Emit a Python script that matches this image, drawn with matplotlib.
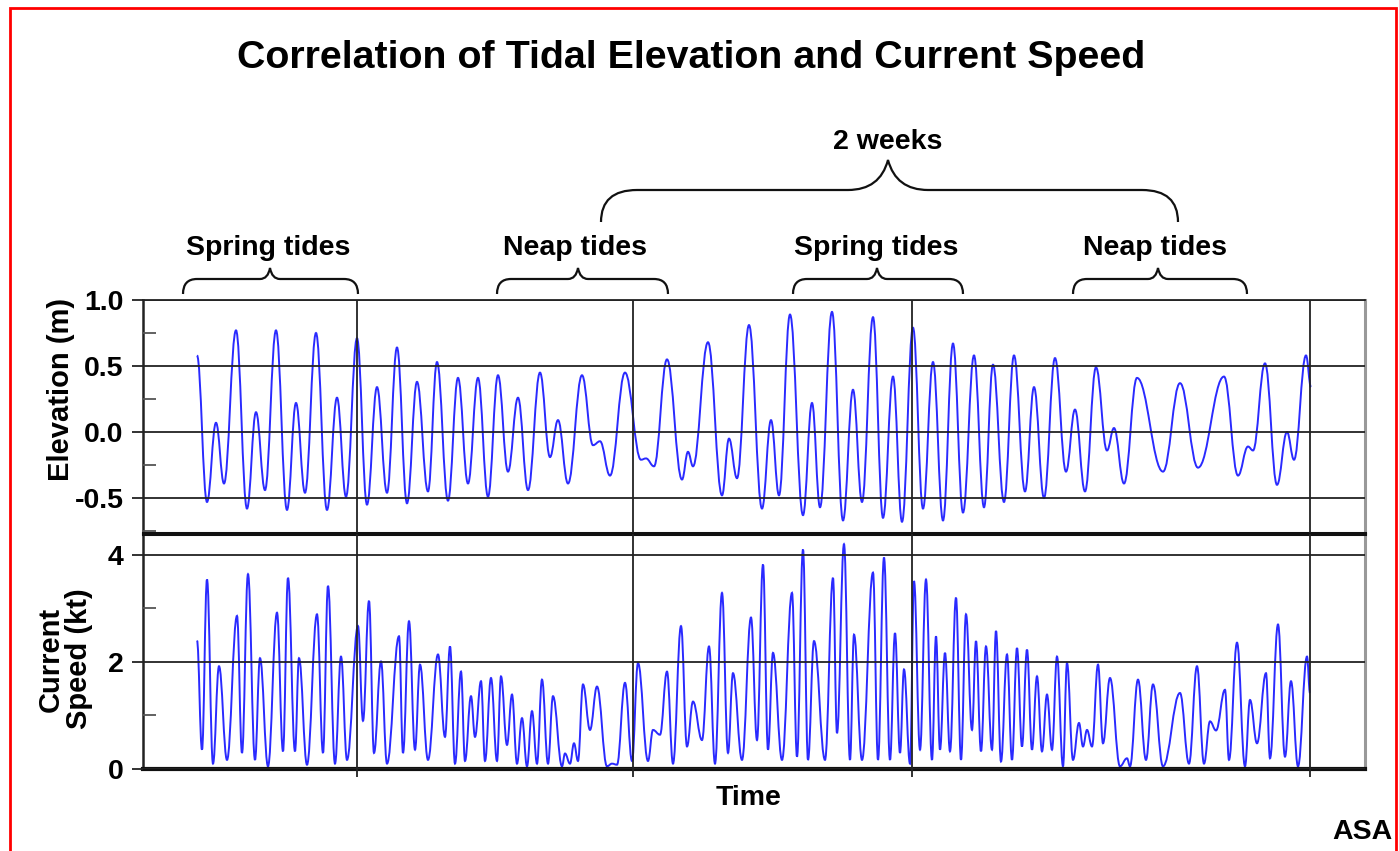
import matplotlib
matplotlib.use('Agg')
import matplotlib.pyplot as plt
from matplotlib.path import Path
from matplotlib.patches import PathPatch, Rectangle

# ---------------- data (time in arbitrary units along the record) ----------------
elev_t = [197,207,216,224,236,247,256,265,276,287,
          296,305,316,327,337,346,357,367,377,387,
          397,407,417,428,437,448,458,468,478,488,
          498,508,518,528,540,550,558,568,582,593,
          600,610,625,641,646,654,667,682,688,693,
          708,722,729,737,749,762,771,779,790,803,
          812,820,832,843,853,862,873,883,893,902,
          913,923,933,943,953,963,974,984,993,1004,
          1014,1025,1034,1044,1055,1066,1075,1085,1096,1107,
          1114,1124,1137,1163,1180,1198,1224,1238,1248,1253,
          1265,1277,1287,1294,1306,1311]
elev_m = [0.58,-0.53,0.07,-0.39,0.77,-0.58,0.15,-0.44,0.77,-0.59,
          0.22,-0.46,0.75,-0.59,0.26,-0.49,0.71,-0.55,0.34,-0.46,
          0.64,-0.54,0.38,-0.45,0.53,-0.52,0.41,-0.39,0.41,-0.49,
          0.43,-0.30,0.26,-0.44,0.45,-0.19,0.09,-0.39,0.43,-0.10,
          -0.07,-0.33,0.45,-0.21,-0.20,-0.26,0.55,-0.36,-0.15,-0.26,
          0.68,-0.48,-0.05,-0.35,0.81,-0.58,0.09,-0.48,0.89,-0.63,
          0.22,-0.57,0.91,-0.67,0.32,-0.53,0.87,-0.65,0.42,-0.68,
          0.79,-0.58,0.53,-0.67,0.67,-0.61,0.58,-0.57,0.51,-0.53,
          0.58,-0.45,0.34,-0.50,0.56,-0.30,0.17,-0.45,0.49,-0.14,
          0.03,-0.39,0.41,-0.30,0.37,-0.27,0.42,-0.33,-0.11,-0.14,
          0.52,-0.40,0.00,-0.21,0.58,0.34]

speed_t = [197,202,207,213,219,227,237,242,248,255,
           260,268,277,283,288,295,299,307,317,323,
           328,335,341,347,358,363,369,374,381,387,
           399,403,409,415,420,428,438,445,450,455,
           461,465,471,475,481,485,491,497,501,507,
           512,517,522,527,532,537,542,548,553,562,
           565,570,574,578,583,590,597,607,612,617,
           625,632,638,648,653,660,667,673,681,687,
           693,702,709,715,722,728,733,742,751,757,
           763,768,773,782,792,797,803,808,814,825,
           833,837,844,850,854,862,873,878,884,890,
           895,900,904,910,914,920,926,932,936,940,
           945,950,956,961,966,972,976,981,986,992,
           996,1001,1007,1012,1017,1022,1027,1032,1037,1042,
           1047,1052,1057,1063,1067,1073,1079,1083,1087,1092,
           1098,1103,1110,1120,1127,1130,1138,1146,1153,1163,
           1180,1189,1197,1204,1210,1216,1225,1229,1237,1245,
           1250,1257,1266,1270,1278,1285,1291,1298,1307,1310]
speed_kt = [2.4,0.36,3.54,0.1,1.92,0.17,2.86,0.3,3.64,0.17,
            2.07,0.05,2.92,0.33,3.57,0.33,2.07,0.08,2.89,0.3,
            3.42,0.1,2.1,0.17,2.67,0.9,3.14,0.3,2.01,0.1,
            2.48,0.3,2.76,0.36,1.95,0.17,2.14,0.6,2.29,0.1,
            1.82,0.15,1.36,0.6,1.64,0.15,1.7,0.15,1.73,0.45,
            1.39,0.1,0.95,0.05,1.08,0.1,1.67,0.1,1.36,0.05,
            0.29,0.1,0.48,0.15,1.58,0.73,1.54,0.05,0.1,0.08,
            1.61,0.15,1.98,0.15,0.73,0.64,1.82,0.1,2.67,0.42,
            1.26,0.54,2.29,0.1,3.29,0.3,1.79,0.17,2.83,0.54,
            3.82,0.36,2.17,0.17,3.29,0.23,4.1,0.17,2.39,0.17,
            3.57,0.67,4.2,0.17,2.51,0.17,3.67,0.17,3.95,0.17,
            2.54,0.3,1.86,0.1,3.51,0.36,3.54,0.17,2.48,0.36,
            2.17,0.33,3.2,0.17,2.89,0.73,2.39,0.33,2.29,0.36,
            2.58,0.14,2.14,0.17,2.26,0.42,2.23,0.36,1.73,0.33,
            1.39,0.36,2.1,0.05,1.98,0.17,0.86,0.42,0.73,0.42,
            1.95,0.48,1.7,0.05,0.2,0.05,1.67,0.17,1.58,0.05,
            1.42,0.1,1.92,0.1,0.89,0.72,1.48,0.17,2.36,0.05,
            1.29,0.48,1.79,0.2,2.7,0.23,1.64,0.05,2.1,1.42]

assert len(elev_t) == len(elev_m)
assert len(speed_t) == len(speed_kt)

elev_ticks = [-0.5, 0.0, 0.5, 1.0]
elev_tick_labels = ['-0.5', '0.0', '0.5', '1.0']
elev_minor = [-0.75, -0.25, 0.25, 0.75]
speed_ticks = [0, 2, 4]
speed_tick_labels = ['0', '2', '4']
speed_minor = [1, 3]
time_grid = [357, 633, 912, 1310]

title = 'Correlation of Tidal Elevation and Current Speed'
phase_labels = ['Spring tides', 'Neap tides', 'Spring tides', 'Neap tides']

# ---------------- figure ----------------
W, H = 1399, 851
plt.rcParams['font.family'] = ['Liberation Sans', 'DejaVu Sans']
fig = plt.figure(figsize=(W / 100, H / 100), dpi=100)
fig.patch.set_facecolor('white')

FS = 20.5


def fx(x):
    return x / W


def fy(y):
    return 1 - y / H


ax1 = fig.add_axes([fx(143), fy(533), fx(1365) - fx(143), fy(300) - fy(533)])
ax2 = fig.add_axes([fx(143), fy(769), fx(1365) - fx(143), fy(534) - fy(769)])


def smooth_path(xs, ys, k=0.4):
    verts = [(xs[0], ys[0])]
    codes = [Path.MOVETO]
    for i in range(len(xs) - 1):
        x0, y0, x1, y1 = xs[i], ys[i], xs[i + 1], ys[i + 1]
        dx = x1 - x0
        verts += [(x0 + k * dx, y0), (x1 - k * dx, y1), (x1, y1)]
        codes += [Path.CURVE4] * 3
    return Path(verts, codes)


line_color = '#2a2aff'
ax1.add_patch(PathPatch(smooth_path(elev_t, elev_m), fill=False,
                        edgecolor=line_color, lw=1.4, zorder=1))
ax2.add_patch(PathPatch(smooth_path(speed_t, speed_kt), fill=False,
                        edgecolor=line_color, lw=1.4, zorder=1))

ax1.set_xlim(143, 1365)
ax2.set_xlim(143, 1365)
ax1.set_ylim(-0.765, 1.0)
ax2.set_ylim(0, 4.39)

for ax, ticks, labels, minor in ((ax1, elev_ticks, elev_tick_labels, elev_minor),
                                  (ax2, speed_ticks, speed_tick_labels, speed_minor)):
    ax.set_axisbelow(False)
    ax.set_yticks(ticks)
    ax.set_yticklabels(labels, fontsize=FS, fontweight='bold')
    ax.set_yticks(minor, minor=True)
    ax.tick_params(axis='y', which='major', direction='out', length=8,
                   width=1.3, pad=6, color='#222')
    ax.tick_params(axis='y', which='minor', direction='in', length=9,
                   width=1.3, color='#555')
    ax.set_xticks(time_grid)
    ax.tick_params(axis='x', which='both', labelbottom=False, length=0)
    ax.grid(True, which='major', color='#222', lw=1.3)
    ax.spines['left'].set_color('#222')
    ax.spines['left'].set_linewidth(1.8)
    ax.spines['right'].set_color('#999')
    ax.spines['right'].set_linewidth(2.2)

ax1.spines['top'].set_linewidth(1.3)
ax1.spines['top'].set_color('#222')
ax1.spines['bottom'].set_linewidth(2.2)
ax1.spines['bottom'].set_color('#111')
ax2.spines['top'].set_linewidth(2.2)
ax2.spines['top'].set_color('#111')
ax2.spines['bottom'].set_linewidth(3)
ax2.spines['bottom'].set_color('#111')
ax2.tick_params(axis='x', direction='out', length=6, width=1.3, color='#222')

# ---------------- texts ----------------
fig.text(fx(691), fy(58), title, ha='center', va='center',
         fontsize=28.4, fontweight='bold')
fig.text(fx(888), fy(142), '2 weeks', ha='center', va='center',
         fontsize=FS, fontweight='bold')
label_x = [268, 575, 876, 1155]
for lx, lab in zip(label_x, phase_labels):
    fig.text(fx(lx), fy(248), lab, ha='center', va='center',
             fontsize=FS, fontweight='bold')
fig.text(fx(61), fy(389), 'Elevation (m)', rotation=90, ha='center',
         va='center', fontsize=21, fontweight='bold')
fig.text(fx(65), fy(659), 'Current\nSpeed (kt)', rotation=90, ha='center',
         va='center', fontsize=21, fontweight='bold', multialignment='center',
         linespacing=1.0)
fig.text(fx(749), fy(798), 'Time', ha='center', va='center',
         fontsize=FS, fontweight='bold')
fig.text(fx(1393), fy(832), 'ASA', ha='right', va='center',
         fontsize=FS, fontweight='bold')


# ---------------- braces ----------------
def brace(xa, xb, xc, yt, yh, ye, r, rt):
    pts = [(xa, ye), (xa, yh), (xa + r, yh),
           (xc - rt, yh),
           (xc - rt * 0.2, yh), (xc, yt),
           (xc + rt * 0.2, yh), (xc + rt, yh),
           (xb - r, yh),
           (xb, yh), (xb, ye)]
    codes = [Path.MOVETO, Path.CURVE3, Path.CURVE3, Path.LINETO,
             Path.CURVE3, Path.CURVE3, Path.CURVE3, Path.CURVE3,
             Path.LINETO, Path.CURVE3, Path.CURVE3]
    verts = [(fx(x), fy(y)) for x, y in pts]
    fig.add_artist(PathPatch(Path(verts, codes), fill=False, edgecolor='#111',
                             lw=1.6, transform=fig.transFigure))


for xa, xb, xc in ((183, 358, 270), (497, 668, 578), (793, 963, 877), (1073, 1247, 1158)):
    brace(xa, xb, xc, 268, 279, 294, 14, 10)
brace(601, 1178, 888, 160, 190, 222, 36, 40)

# red frame
fig.add_artist(Rectangle((fx(10), -0.1), fx(1396) - fx(10), fy(8) + 0.1,
                         transform=fig.transFigure, fill=False,
                         edgecolor='red', lw=2))

fig.savefig('out.png', dpi=100, facecolor='white')
